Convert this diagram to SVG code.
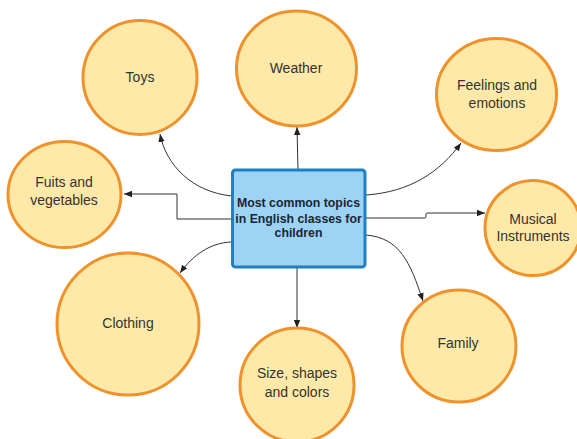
<svg xmlns="http://www.w3.org/2000/svg" width="577" height="439" viewBox="0 0 577 439">
<style>
.n{fill:#fee9a8;stroke:#f0922b;stroke-width:3}
.t{font-family:"Liberation Sans",Arial,sans-serif;font-size:14px;fill:#333;text-anchor:middle;dominant-baseline:central}
.b{font-family:"Liberation Sans",Arial,sans-serif;font-size:12.3px;font-weight:bold;fill:#1b2633;text-anchor:middle;dominant-baseline:central}
.c{fill:none;stroke:#333;stroke-width:1}
</style>
<defs>
<marker id="a" viewBox="0 0 10 10" refX="10" refY="5" markerWidth="8" markerHeight="8" markerUnits="userSpaceOnUse" orient="auto">
<path d="M0,1 L10,5 L0,9 Z" fill="#222"/>
</marker>
</defs>
<g id="connectors">
<path class="c" marker-end="url(#a)" d="M232,196 C192,192 166,165 160,134"/>
<path class="c" marker-end="url(#a)" d="M298,170 L297,127"/>
<path class="c" marker-end="url(#a)" d="M366,195 C410,192 440,172 461,143"/>
<path class="c" marker-end="url(#a)" d="M232,219 H177 V194 H124"/>
<path class="c" marker-end="url(#a)" d="M366,218 H425 Q426,218 426,216 V214 Q426,213 428,213 H485"/>
<path class="c" marker-end="url(#a)" d="M366,235 C400,238 410,262 423,301"/>
<path class="c" marker-end="url(#a)" d="M297,268 L297,328"/>
<path class="c" marker-end="url(#a)" d="M231,242 C210,243 193,255 180,273"/>
</g>
<g id="center">
<rect x="232.5" y="170" width="132.5" height="97" rx="3" fill="#9dd3f3" stroke="#1f7fc1" stroke-width="3"/>
<text class="b" x="298.5" y="203">Most common topics</text>
<text class="b" x="298.5" y="218.5">in English classes for</text>
<text class="b" x="298.5" y="233">children</text>
</g>
<g id="toys">
<ellipse class="n" cx="140" cy="77.5" rx="57" ry="57"/>
<text class="t" x="140" y="77">Toys</text>
</g>
<g id="weather">
<ellipse class="n" cx="296.5" cy="68.5" rx="60" ry="57.5"/>
<text class="t" x="296" y="68">Weather</text>
</g>
<g id="feelings">
<ellipse class="n" cx="496.5" cy="94.5" rx="60" ry="56"/>
<text class="t" x="497" y="85">Feelings and</text>
<text class="t" x="497" y="103">emotions</text>
</g>
<g id="fruits">
<ellipse class="n" cx="64.5" cy="194.5" rx="56.5" ry="53"/>
<text class="t" x="64" y="182">Fuits and</text>
<text class="t" x="64" y="200">vegetables</text>
</g>
<g id="musical">
<ellipse class="n" cx="533" cy="228" rx="48" ry="47.5"/>
<text class="t" x="533" y="219">Musical</text>
<text class="t" x="533" y="236">Instruments</text>
</g>
<g id="clothing">
<ellipse class="n" cx="128" cy="324" rx="71" ry="71"/>
<text class="t" x="128" y="323">Clothing</text>
</g>
<g id="size">
<ellipse class="n" cx="297" cy="385" rx="57" ry="57"/>
<text class="t" x="297" y="373">Size, shapes</text>
<text class="t" x="297" y="392">and colors</text>
</g>
<g id="family">
<ellipse class="n" cx="459" cy="346" rx="57" ry="56"/>
<text class="t" x="458" y="343">Family</text>
</g>
</svg>
